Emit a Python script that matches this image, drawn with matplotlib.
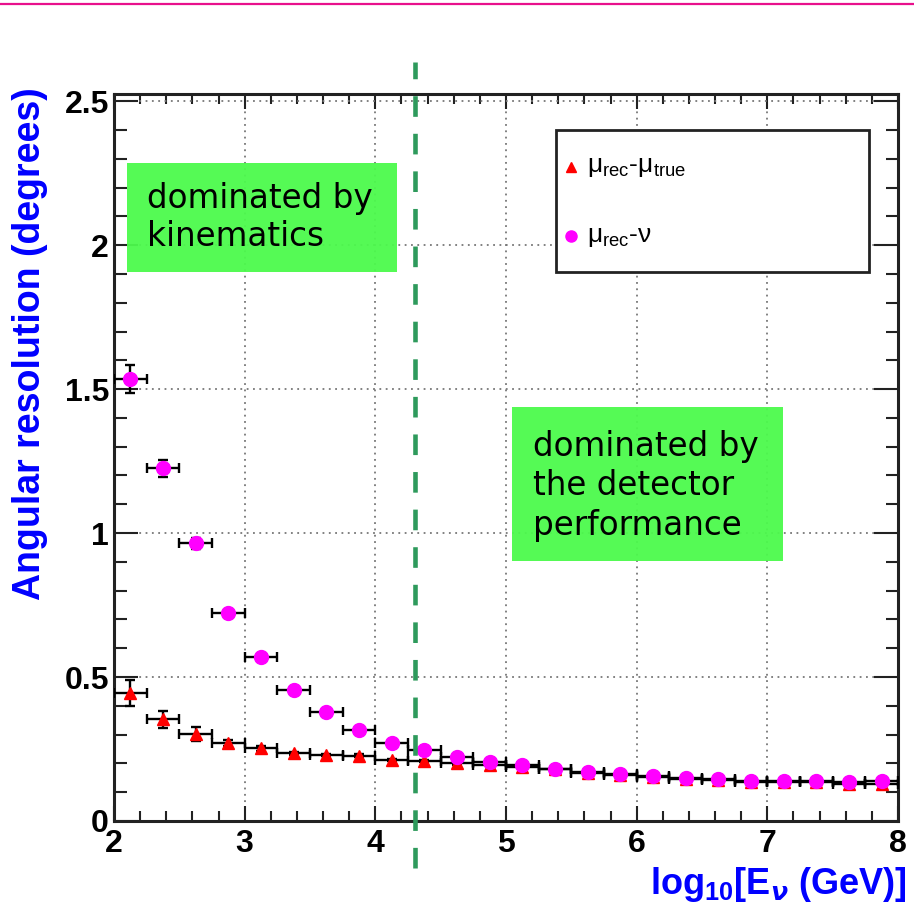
import matplotlib
matplotlib.use("Agg")
import matplotlib.pyplot as plt
from matplotlib.lines import Line2D
from matplotlib.patches import Rectangle
from matplotlib.ticker import MultipleLocator, FormatStrFormatter

plt.rcParams['mathtext.fontset'] = 'custom'
plt.rcParams['mathtext.rm'] = 'Liberation Sans'
plt.rcParams['mathtext.it'] = 'Liberation Sans:italic'
plt.rcParams['mathtext.bf'] = 'Liberation Sans:bold'

# bin centres of log10(E) and half bin width
log_e = [2.125, 2.375, 2.625, 2.875, 3.125, 3.375, 3.625, 3.875,
         4.125, 4.375, 4.625, 4.875, 5.125, 5.375, 5.625, 5.875,
         6.125, 6.375, 6.625, 6.875, 7.125, 7.375, 7.625, 7.875]
half_bin = 0.125

# mu_rec - mu_true
res_mu = [0.443, 0.353, 0.302, 0.270, 0.252, 0.235, 0.229, 0.226,
          0.212, 0.209, 0.200, 0.193, 0.186, 0.179, 0.168, 0.160,
          0.153, 0.147, 0.143, 0.137, 0.135, 0.135, 0.130, 0.128]
err_mu = [0.045, 0.030, 0.025, 0.010, 0.008, 0.006, 0.005, 0.005,
          0.004, 0.004, 0.004, 0.003, 0.003, 0.003, 0.003, 0.003,
          0.003, 0.003, 0.003, 0.003, 0.003, 0.003, 0.003, 0.003]

# mu_rec - nu
res_nu = [1.534, 1.225, 0.964, 0.721, 0.568, 0.455, 0.380, 0.316,
          0.270, 0.248, 0.223, 0.205, 0.193, 0.181, 0.170, 0.163,
          0.156, 0.150, 0.146, 0.139, 0.139, 0.139, 0.134, 0.139]
err_nu = [0.048, 0.030, 0.020, 0.010, 0.008, 0.006, 0.005, 0.005,
          0.004, 0.004, 0.004, 0.003, 0.003, 0.003, 0.003, 0.003,
          0.003, 0.003, 0.003, 0.003, 0.003, 0.003, 0.003, 0.003]

split_x = 4.3
box_kin = (2.10, 1.906, 2.065, 0.379)   # x, y, w, h
box_det = (5.045, 0.903, 2.073, 0.535)

fig = plt.figure(figsize=(9.14, 9.18), dpi=100)
ax = fig.add_axes([0.1247, 0.1057, 0.8578, 0.7919])

ax.set_xlim(2, 8)
ax.set_ylim(0, 2.525)

# grid at the major ticks
ax.grid(True, which='major', color='#777777', linestyle=(0, (1, 2.5)), lw=1.3, zorder=0)
ax.set_axisbelow(True)

# green note boxes
for (bx, by, bw, bh) in (box_kin, box_det):
    ax.add_patch(Rectangle((bx, by), bw, bh, facecolor='#4cfa4c', edgecolor='none',
                           alpha=0.95, zorder=1))
ax.text(2.2525, 2.095, 'dominated by\nkinematics', fontsize=23.5, family='DejaVu Sans',
        ha='left', va='center', linespacing=1.2, zorder=2)
ax.text(5.206, 1.165, 'dominated by\nthe detector\nperformance', fontsize=23.5,
        family='DejaVu Sans', ha='left', va='center', linespacing=1.25, zorder=2)

# data
ax.errorbar(log_e, res_mu, xerr=half_bin, yerr=err_mu, fmt='^', color='red', ms=9,
            ecolor='black', elinewidth=1.7, capsize=3.5, capthick=1.7, zorder=3)
ax.errorbar(log_e, res_nu, xerr=half_bin, yerr=err_nu, fmt='o', color='magenta', ms=10,
            ecolor='black', elinewidth=1.7, capsize=3.5, capthick=1.7, zorder=4)

# vertical separation line
ax.plot([split_x, split_x], [-0.163, 2.635], color='#2e9a5c', lw=3.3,
        dashes=(4.5, 3.7), clip_on=False, zorder=5)

# legend box drawn by hand
ax.add_patch(Rectangle((0.5638, 0.7552), 0.3992, 0.1953, transform=ax.transAxes,
                       facecolor='white', edgecolor='#222222', lw=2, zorder=6))
ax.plot([0.583], [0.8996], marker='^', color='red', ms=7, transform=ax.transAxes, zorder=7)
ax.plot([0.583], [0.8047], marker='o', color='magenta', ms=8, transform=ax.transAxes, zorder=7)
ax.text(0.603, 0.893, r'$\mathrm{\mu_{rec}}$-$\mathrm{\mu_{true}}$', fontsize=19,
        family='Liberation Sans', transform=ax.transAxes, va='baseline', zorder=7)
ax.text(0.603, 0.797, r'$\mathrm{\mu_{rec}}$-$\mathrm{\nu}$', fontsize=19,
        family='Liberation Sans', transform=ax.transAxes, va='baseline', zorder=7)

# axes styling
ax.xaxis.set_major_locator(MultipleLocator(1))
ax.xaxis.set_minor_locator(MultipleLocator(0.2))
ax.yaxis.set_major_locator(MultipleLocator(0.5))
ax.yaxis.set_minor_locator(MultipleLocator(0.1))
ax.yaxis.set_major_formatter(FormatStrFormatter('%g'))
ax.tick_params(which='both', direction='in', top=True, right=True, width=1.5, colors='#222222')
ax.tick_params(axis='y', which='major', length=17)
ax.tick_params(axis='y', which='minor', length=9)
ax.tick_params(axis='x', which='major', length=11, pad=6)
ax.tick_params(axis='x', which='minor', length=7)
ax.tick_params(axis='both', which='major', labelsize=23, labelcolor='black')
for lab in ax.get_xticklabels() + ax.get_yticklabels():
    lab.set_fontfamily('Liberation Sans')
    lab.set_fontweight('bold')
for sp in ax.spines.values():
    sp.set_linewidth(2.2)
    sp.set_color('#222222')

ax.set_ylabel('Angular resolution (degrees)', fontsize=27, fontweight='bold',
              color='blue', family='Liberation Sans')
ax.yaxis.set_label_coords(-0.084, 0.656)
ax.set_xlabel(r'log$_{\mathbf{10}}$[E$_{\boldsymbol{\nu}}$ (GeV)]', fontsize=26,
              fontweight='bold', color='blue', family='Liberation Sans', ha='right', va='top')
ax.xaxis.set_label_coords(1.0115, -0.06)

# magenta rule at the top of the page
fig.add_artist(Line2D([0, 1], [0.9956, 0.9956], transform=fig.transFigure,
                      color='#e8108c', lw=1.6))

fig.savefig('out.png', dpi=100)
